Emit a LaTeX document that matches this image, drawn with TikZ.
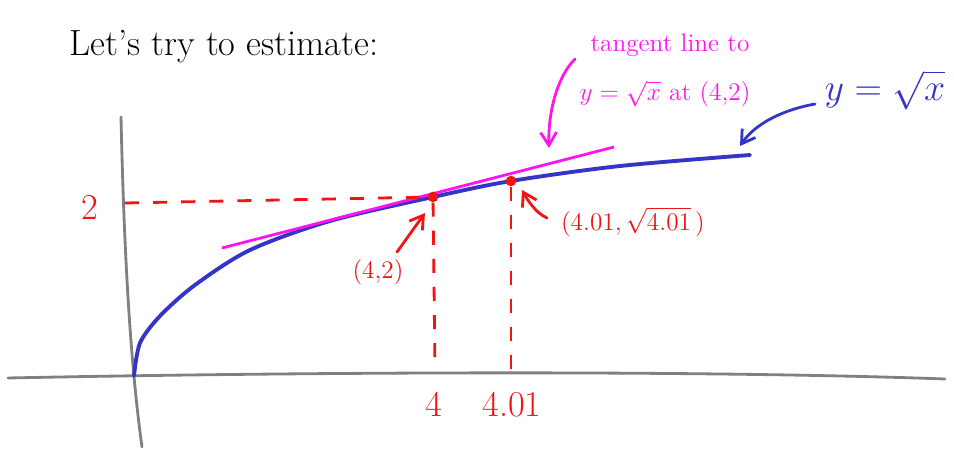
\documentclass[tikz,border=0pt]{standalone}
\usepackage{amsmath}
\usetikzlibrary{arrows.meta}
\definecolor{axisGray}{HTML}{808080}
\definecolor{curveBlue}{HTML}{3434C8}
\definecolor{tanPink}{HTML}{FF14F0}
\definecolor{markRed}{HTML}{F01414}

\begin{document}
\begin{tikzpicture}[
  x=0.02cm, y=-0.02cm,
  >={Straight Barb[length=2.6mm,width=3.2mm]},
  axis/.style={draw=axisGray, line width=1.6pt, line cap=round},
  guide/.style={draw=markRed, line width=1.6pt, dash pattern=on 8pt off 8pt},
  dot/.style={circle, fill=markRed, inner sep=0pt, minimum size=6pt},
  pointer/.style={->, line width=1.6pt, line cap=round},
  redlabel/.style={text=markRed, font=\Large},
  ticklabel/.style={text=markRed, font=\huge},
  pinknote/.style={text=tanPink, font=\Large, inner sep=1pt}
]
\useasboundingbox (0,0) rectangle (954,452);

% ===== Title ==========================================================
\node (title) at (224,47) {\huge Let's try to estimate:};

% ===== Axes ===========================================================
\draw[axis] (8,378) .. controls (300,372) and (700,370) .. (945,379);
\draw[axis] (121,117) .. controls (124,250) and (130,360) .. (142,447);

% ===== Curve and tangent line ========================================
\draw[draw=curveBlue, line width=2.2pt, line cap=round]
  plot[smooth, tension=0.5] coordinates {(134,376) (140,343) (160,316)
    (195,285) (250,250) (330,221) (433,197) (511,181) (620,166) (750,155)};
\draw[draw=tanPink, line width=1.6pt] (222,248) -- (614,147);

% ===== Points =========================================================
\node[dot] (p4) at (433,197) {};
\node[dot] (p401) at (511,181) {};
\coordinate (yax) at (125,203);
\coordinate (x4) at (435,370);
\coordinate (x401) at (511,376);

\draw[guide] (yax) -- (p4);
\draw[guide] (p4) -- (x4);
\draw[guide] (p401) -- (x401);

% ===== Axis labels ====================================================
\node[ticklabel] (lab2) at (90,207) {2};
\node[ticklabel] (lab4) at (434,404) {4};
\node[ticklabel] (lab401) at (512,405) {4.01};

% ===== Point labels ===================================================
\node[redlabel] (pt4) at (378,272) {(4,2)};
\node[redlabel] (pt401) at (633,222) {$(4.01,\sqrt{4.01}\,)$};
\coordinate (pt4tail) at (397,252);
\coordinate (pt401tail) at (547,218);
\coordinate (p4head) at (425,213);
\coordinate (p401head) at (522,190);

\draw[pointer, draw=markRed] (pt4tail) -- (p4head);
\draw[pointer, draw=markRed] (pt401tail) .. controls (536,213) and (528,201) .. (p401head);

% ===== Tangent-line note ==============================================
\node[pinknote] (tannote) at (670,45) {tangent line to};
\node[pinknote] (tannote2) at (665,94) {$y=\sqrt{x}$ at (4,2)};
\coordinate (tantail) at (575,59);
\coordinate (tanhead) at (549,148);
\draw[pointer, draw=tanPink] (tantail) .. controls (556,78) and (548,115) .. (tanhead);

% ===== Curve note =====================================================
\node[text=curveBlue, font=\LARGE] (curvenote) at (885,90) {\scalebox{1.25}{$y=\sqrt{x}$}};
\coordinate (curvetail) at (815,104);
\coordinate (curvehead) at (740,146);
\draw[pointer, draw=curveBlue] (curvetail) .. controls (782,110) and (755,124) .. (curvehead);

\end{tikzpicture}
\end{document}
